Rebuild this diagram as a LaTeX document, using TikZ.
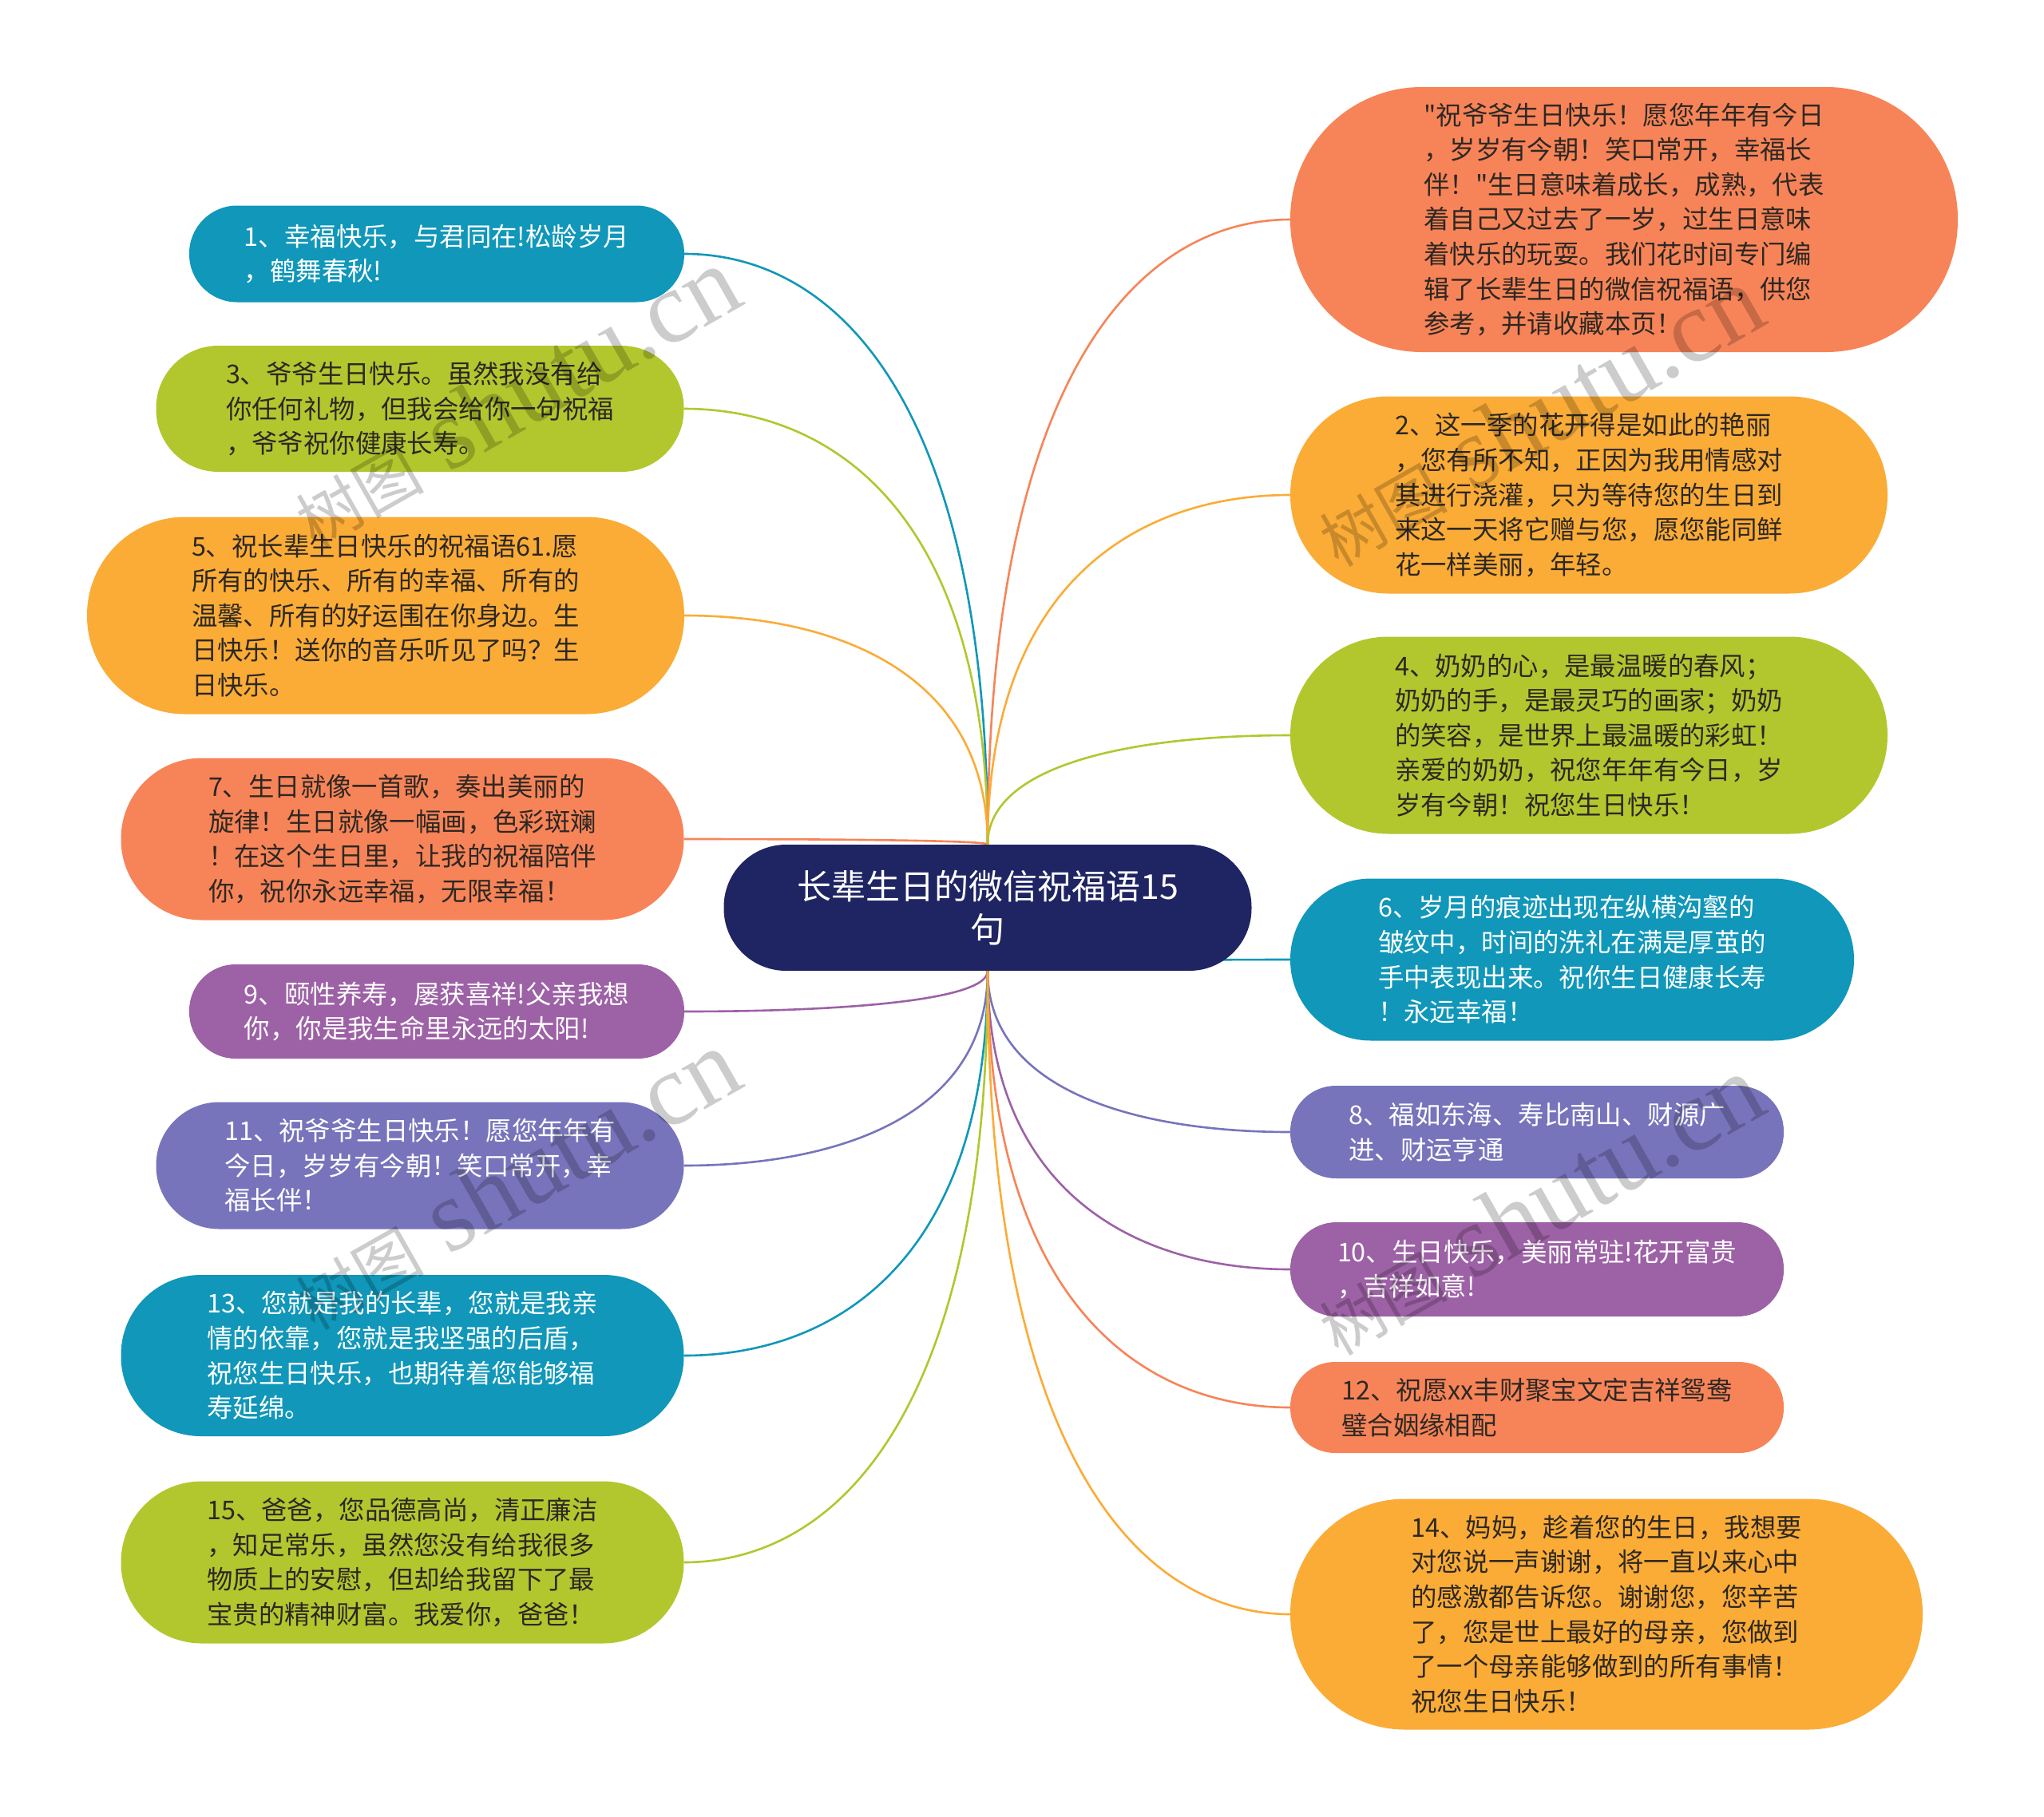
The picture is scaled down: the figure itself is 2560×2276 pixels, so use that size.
\documentclass[tikz,border=0pt]{standalone}
\usepackage{fontspec}
\newfontfamily\cjk{Noto Sans CJK SC}
\newfontfamily\wmlat{Liberation Serif}
\usetikzlibrary{calc}
\pgfdeclarelayer{bg}
\pgfsetlayers{bg,main}
\definecolor{cteal}{RGB}{16,151,185}
\definecolor{cgreen}{RGB}{178,199,46}
\definecolor{corange}{RGB}{251,172,54}
\definecolor{ccoral}{RGB}{247,132,88}
\definecolor{cpurple}{RGB}{157,97,166}
\definecolor{cblue}{RGB}{119,116,188}
\definecolor{cnavy}{RGB}{31,37,98}
\definecolor{cdark}{RGB}{45,40,35}
\newcommand\mybody{\cjk\fontsize{32.4pt}{43.6pt}\selectfont}
\newcommand\mytitle{\cjk\fontsize{43pt}{54pt}\selectfont}
\newcommand\conn[3]{\draw[link,#1] (#2) .. controls ($(#2)!0.75!(#2 |- #3)$) and ($(#3)!0.5!(#2 |- #3)$) .. (#3);}
\tikzset{
  pill/.style={rounded corners=#1, inner sep=0pt, align=left, font=\mybody},
  link/.style={line width=2.6pt},
  dk/.style={text=cdark},
  wt/.style={text=white},
  wm/.style={text=black, text opacity=0.2, inner sep=0pt}
}
\begin{document}
\begin{tikzpicture}[x=1pt,y=-1pt]
\useasboundingbox (0,0) rectangle (2560,2276);
% central
\node[pill=78, fill=cnavy, wt, align=center, font=\mytitle, minimum width=661pt, minimum height=158pt] (c) at (1237,1137) {长辈生日的微信祝福语15\\句};
% left
\node[pill=60, fill=cteal, wt, minimum width=620pt, minimum height=121pt] (n1) at (547,318) {1、幸福快乐，与君同在!松龄岁月\\，鹤舞春秋!};
\node[pill=78, fill=cgreen, dk, minimum width=661pt, minimum height=158pt] (n3) at (526,512) {3、爷爷生日快乐。虽然我没有给\\你任何礼物，但我会给你一句祝福\\，爷爷祝你健康长寿。};
\node[pill=123, fill=corange, dk, minimum width=748pt, minimum height=247pt] (n5) at (483,771) {5、祝长辈生日快乐的祝福语61.愿\\所有的快乐、所有的幸福、所有的\\温馨、所有的好运围在你身边。生\\日快乐！送你的音乐听见了吗？生\\日快乐。};
\node[pill=101, fill=ccoral, dk, minimum width=705pt, minimum height=203pt] (n7) at (504,1051) {7、生日就像一首歌，奏出美丽的\\旋律！生日就像一幅画，色彩斑斓\\！在这个生日里，让我的祝福陪伴\\你，祝你永远幸福，无限幸福！};
\node[pill=58, fill=cpurple, wt, minimum width=620pt, minimum height=118pt] (n9) at (547,1267) {9、颐性养寿，屡获喜祥!父亲我想\\你，你是我生命里永远的太阳!};
\node[pill=79, fill=cblue, wt, minimum width=661pt, minimum height=159pt] (n11) at (526,1460) {11、祝爷爷生日快乐！愿您年年有\\今日，岁岁有今朝！笑口常开，幸\\福长伴！};
\node[pill=100, fill=cteal, wt, minimum width=705pt, minimum height=202pt] (n13) at (504,1698) {13、您就是我的长辈，您就是我亲\\情的依靠，您就是我坚强的后盾，\\祝您生日快乐，也期待着您能够福\\寿延绵。};
\node[pill=101, fill=cgreen, dk, minimum width=705pt, minimum height=203pt] (n15) at (504,1957) {15、爸爸，您品德高尚，清正廉洁\\，知足常乐，虽然您没有给我很多\\物质上的安慰，但却给我留下了最\\宝贵的精神财富。我爱你，爸爸！};
% right
\node[pill=165, fill=ccoral, dk, minimum width=836pt, minimum height=332pt] (ni) at (2034,275) {"祝爷爷生日快乐！愿您年年有今日\\，岁岁有今朝！笑口常开，幸福长\\伴！"生日意味着成长，成熟，代表\\着自己又过去了一岁，过生日意味\\着快乐的玩耍。我们花时间专门编\\辑了长辈生日的微信祝福语，供您\\参考，并请收藏本页！};
\node[pill=123, fill=corange, dk, minimum width=748pt, minimum height=247pt] (n2) at (1990,620) {2、这一季的花开得是如此的艳丽\\，您有所不知，正因为我用情感对\\其进行浇灌，只为等待您的生日到\\来这一天将它赠与您，愿您能同鲜\\花一样美丽，年轻。};
\node[pill=123, fill=cgreen, dk, minimum width=748pt, minimum height=247pt] (n4) at (1990,921) {4、奶奶的心，是最温暖的春风；\\奶奶的手，是最灵巧的画家；奶奶\\的笑容，是世界上最温暖的彩虹！\\亲爱的奶奶，祝您年年有今日，岁\\岁有今朝！祝您生日快乐！};
\node[pill=101, fill=cteal, wt, minimum width=706pt, minimum height=203pt] (n6) at (1969,1202) {6、岁月的痕迹出现在纵横沟壑的\\皱纹中，时间的洗礼在满是厚茧的\\手中表现出来。祝你生日健康长寿\\！永远幸福！};
\node[pill=57, fill=cblue, wt, minimum width=618pt, minimum height=116pt] (n8) at (1925,1418) {8、福如东海、寿比南山、财源广\\进、财运亨通};
\node[pill=58, fill=cpurple, wt, minimum width=618pt, minimum height=118pt] (n10) at (1925,1590) {10、生日快乐，美丽常驻!花开富贵\\，吉祥如意!};
\node[pill=56, fill=ccoral, dk, minimum width=618pt, minimum height=114pt] (n12) at (1925,1763) {12、祝愿xx丰财聚宝文定吉祥鸳鸯\\璧合姻缘相配};
\node[pill=144, fill=corange, dk, minimum width=792pt, minimum height=289pt] (n14) at (2012,2022) {14、妈妈，趁着您的生日，我想要\\对您说一声谢谢，将一直以来心中\\的感激都告诉您。谢谢您，您辛苦\\了，您是世上最好的母亲，您做到\\了一个母亲能够做到的所有事情！\\祝您生日快乐！};
% connectors
\begin{pgfonlayer}{bg}
\fill[white] (0,0) rectangle (2560,2276);
\conn{cteal}{c.north}{n1.east}
\conn{cgreen}{c.north}{n3.east}
\conn{corange}{c.north}{n5.east}
\conn{ccoral}{c.north}{n7.east}
\conn{cpurple}{c.south}{n9.east}
\conn{cblue}{c.south}{n11.east}
\conn{cteal}{c.south}{n13.east}
\conn{cgreen}{c.south}{n15.east}
\conn{ccoral}{c.north}{ni.west}
\conn{corange}{c.north}{n2.west}
\conn{cgreen}{c.north}{n4.west}
\conn{cteal}{c.south}{n6.west}
\conn{cblue}{c.south}{n8.west}
\conn{cpurple}{c.south}{n10.west}
\conn{ccoral}{c.south}{n12.west}
\conn{corange}{c.south}{n14.west}
\end{pgfonlayer}
% watermarks
\node[wm, rotate=29.6] (w1) at (645,498) {{\cjk\fontsize{80pt}{80pt}\selectfont 树图}{\wmlat\fontsize{128pt}{128pt}\selectfont\ shutu.cn}};
\node[wm, rotate=29.6] (w2) at (645,1478) {{\cjk\fontsize{80pt}{80pt}\selectfont 树图}{\wmlat\fontsize{128pt}{128pt}\selectfont\ shutu.cn}};
\node[wm, rotate=29.6] (w3) at (1927,522) {{\cjk\fontsize{80pt}{80pt}\selectfont 树图}{\wmlat\fontsize{128pt}{128pt}\selectfont\ shutu.cn}};
\node[wm, rotate=29.6] (w4) at (1927,1510) {{\cjk\fontsize{80pt}{80pt}\selectfont 树图}{\wmlat\fontsize{128pt}{128pt}\selectfont\ shutu.cn}};
\end{tikzpicture}
\end{document}
